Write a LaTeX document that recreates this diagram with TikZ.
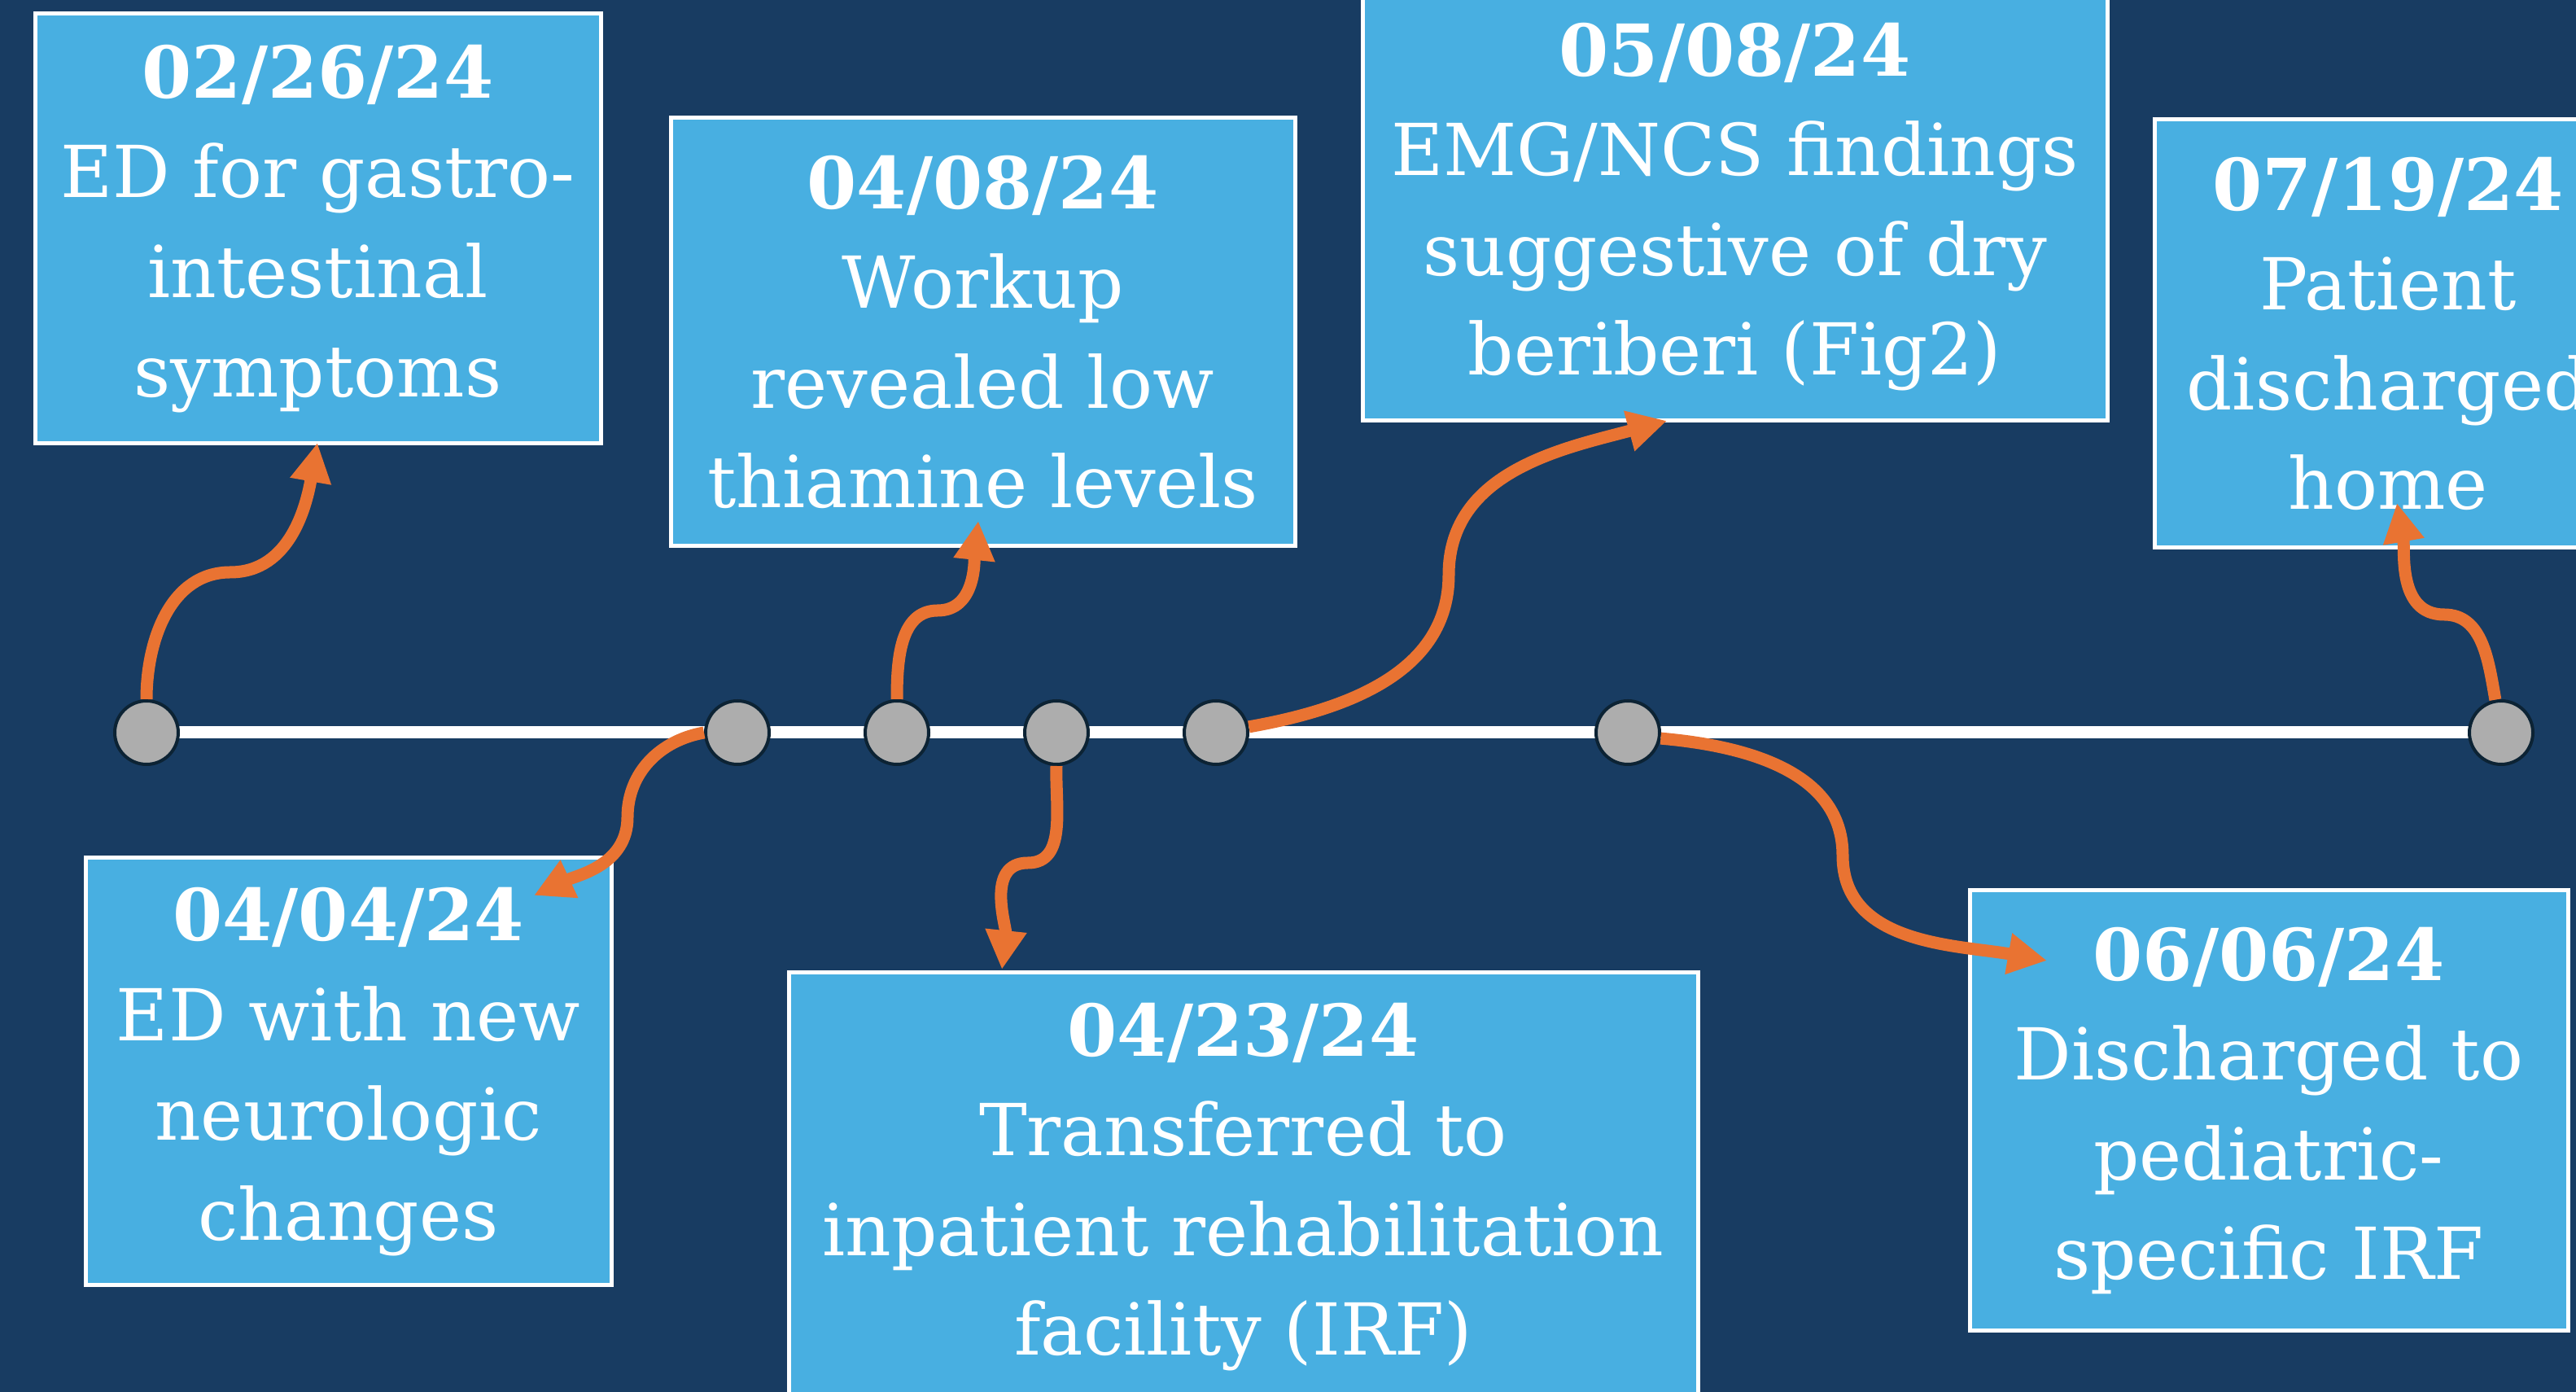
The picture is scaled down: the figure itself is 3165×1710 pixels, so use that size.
\documentclass[tikz,border=0pt]{standalone}
\usepackage{fontspec}
\setmainfont{DejaVu Serif}
\usetikzlibrary{arrows.meta}
\definecolor{bg}{RGB}{24,60,98}
\definecolor{boxblue}{RGB}{72,175,225}
\definecolor{orng}{RGB}{233,115,50}
\definecolor{dotgray}{RGB}{173,173,173}
\definecolor{dotline}{RGB}{12,35,52}
\begin{document}
\begin{tikzpicture}[x=1pt,y=1pt,
  evbox/.style={draw=white, line width=5pt, fill=boxblue, text=white, align=center,
    inner sep=0pt, font=\fontsize{88}{122.5}\selectfont},
  dot/.style={circle, fill=dotgray, draw=dotline, line width=4pt, minimum size=78pt, inner sep=0pt},
  conn/.style={draw=orng, line width=15pt, -{Triangle[length=48pt,width=48pt]}},
  tl/.style={draw=white, line width=15pt}]
\useasboundingbox (0,0) rectangle (3165,1710);
\fill[bg] (0,0) rectangle (3165,1710);
\clip (0,0) rectangle (3165,1710);

% boxes
\node[evbox, minimum width=695pt, minimum height=528pt] (b1) at (390.5,1429)
  {\textbf{02/26/24}\\ED for gastro-\\intestinal\\symptoms};
\node[evbox, minimum width=767pt, minimum height=526pt] (b2) at (1207.5,1302)
  {\textbf{04/08/24}\\Workup\\revealed low\\thiamine levels};
\node[evbox, minimum width=915pt, minimum height=526pt] (b3) at (2131.5,1456)
  {\textbf{05/08/24}\\EMG/NCS findings\\suggestive of dry\\beriberi (Fig2)};
\node[evbox, minimum width=574pt, minimum height=526pt] (b4) at (2934,1300)
  {\textbf{07/19/24}\\Patient\\discharged\\home};
\node[evbox, minimum width=646pt, minimum height=525pt] (b5) at (428,393.5)
  {\textbf{04/04/24}\\ED with new\\neurologic\\changes};
\node[evbox, minimum width=1117pt, minimum height=526pt] (b6) at (1527.5,252)
  {\textbf{04/23/24}\\Transferred to\\inpatient rehabilitation\\facility (IRF)};
\node[evbox, minimum width=735pt, minimum height=541pt] (b7) at (2787.5,345.5)
  {\textbf{06/06/24}\\Discharged to\\pediatric-\\specific IRF};

% timeline
\coordinate (p1) at (180,810);
\coordinate (p2) at (906,810);
\coordinate (p3) at (1102,810);
\coordinate (p4) at (1298,810);
\coordinate (p5) at (1494,810);
\coordinate (p6) at (2000,810);
\coordinate (p7) at (3073,810);
\draw[tl] (p1) -- (p7);
\foreach \i in {1,...,7} \node[dot] (c\i) at (p\i) {};

% connector waypoints
\coordinate (m1) at (283,1007);  \coordinate (t1) at (390,1166);
\coordinate (m2) at (771,706);   \coordinate (t2) at (656,610);
\coordinate (m3) at (1152,960);  \coordinate (t3) at (1202,1070);
\coordinate (m4) at (1263,650);  \coordinate (t4) at (1231,519);
\coordinate (m5) at (1780,1004); \coordinate (t5) at (2048,1193);
\coordinate (m6) at (2264,659);  \coordinate (t6) at (2515,530);
\coordinate (m7) at (3003,955);  \coordinate (t7) at (2945,1092);

\draw[conn] (c1.north) to[out=90,in=180] (m1) to[out=0,in=-100] (t1);
\draw[conn] (c2.west) to[out=190,in=90] (m2) to[out=-90,in=25] (t2);
\draw[conn] (c3.north) to[out=90,in=180] (m3) to[out=0,in=-96] (t3);
\draw[conn] (c4.south) to[out=-92,in=0] (m4) to[out=180,in=84] (t4);
\draw[conn] (c5.10) to[out=10,in=-90] (m5) to[out=90,in=195] (t5);
\draw[conn] (c6.-10) to[out=-5,in=90] (m6) to[out=-90,in=170] (t6);
\draw[conn] (c7.100) to[out=100,in=0] (m7) to[out=180,in=-80] (t7);
\end{tikzpicture}
\end{document}
